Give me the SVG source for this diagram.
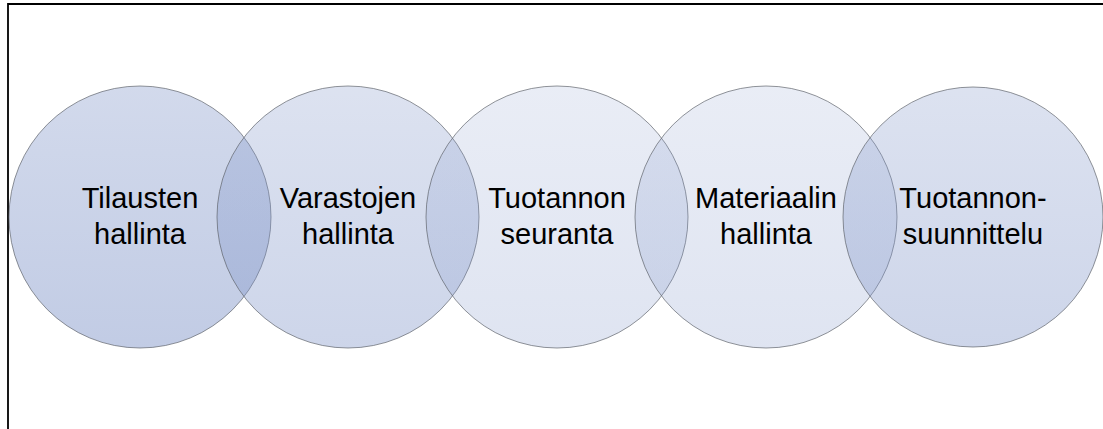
<svg xmlns="http://www.w3.org/2000/svg" width="1103" height="429" viewBox="0 0 1103 429">
  <style>
    .ring { stroke: #5c6068; stroke-width: 0.8; stroke-opacity: 0.85; }
    .label { font-family: "Liberation Sans", Arial, sans-serif; font-size: 29px; fill: #000; text-anchor: middle; }
  </style>
  <defs>
    <!-- translucent blue-grey fills, slightly deeper toward the bottom -->
    <linearGradient id="g45" x1="0" y1="0" x2="0" y2="1">
      <stop offset="0" stop-color="#7f94c8" stop-opacity="0.35"/>
      <stop offset="1" stop-color="#7f94c8" stop-opacity="0.48"/>
    </linearGradient>
    <linearGradient id="g35" x1="0" y1="0" x2="0" y2="1">
      <stop offset="0" stop-color="#7f94c8" stop-opacity="0.27"/>
      <stop offset="1" stop-color="#7f94c8" stop-opacity="0.39"/>
    </linearGradient>
    <linearGradient id="g20" x1="0" y1="0" x2="0" y2="1">
      <stop offset="0" stop-color="#7f94c8" stop-opacity="0.17"/>
      <stop offset="1" stop-color="#7f94c8" stop-opacity="0.25"/>
    </linearGradient>
  </defs>

  <rect x="0" y="0" width="1103" height="429" fill="#fff"/>
  <!-- frame -->
  <path d="M8,429 V4 H1103" fill="none" stroke="#000" stroke-width="1.8"/>

  <g id="connectors"></g>

  <g id="tilausten">
    <circle class="ring" cx="140" cy="217" r="131" fill="url(#g45)"/>
    <text class="label" x="140" y="208">Tilausten</text>
    <text class="label" x="140" y="244">hallinta</text>
  </g>
  <g id="varastojen">
    <circle class="ring" cx="348" cy="217" r="131" fill="url(#g35)"/>
    <text class="label" x="348" y="208">Varastojen</text>
    <text class="label" x="348" y="244">hallinta</text>
  </g>
  <g id="tuotannon-seuranta">
    <circle class="ring" cx="557" cy="217" r="131" fill="url(#g20)"/>
    <text class="label" x="557" y="208">Tuotannon</text>
    <text class="label" x="557" y="244">seuranta</text>
  </g>
  <g id="materiaalin">
    <circle class="ring" cx="766" cy="217" r="131" fill="url(#g20)"/>
    <text class="label" x="766" y="208">Materiaalin</text>
    <text class="label" x="766" y="244">hallinta</text>
  </g>
  <g id="tuotannonsuunnittelu">
    <circle class="ring" cx="973" cy="217" r="130" fill="url(#g35)"/>
    <text class="label" x="973" y="208">Tuotannon-</text>
    <text class="label" x="973" y="244">suunnittelu</text>
  </g>
</svg>
